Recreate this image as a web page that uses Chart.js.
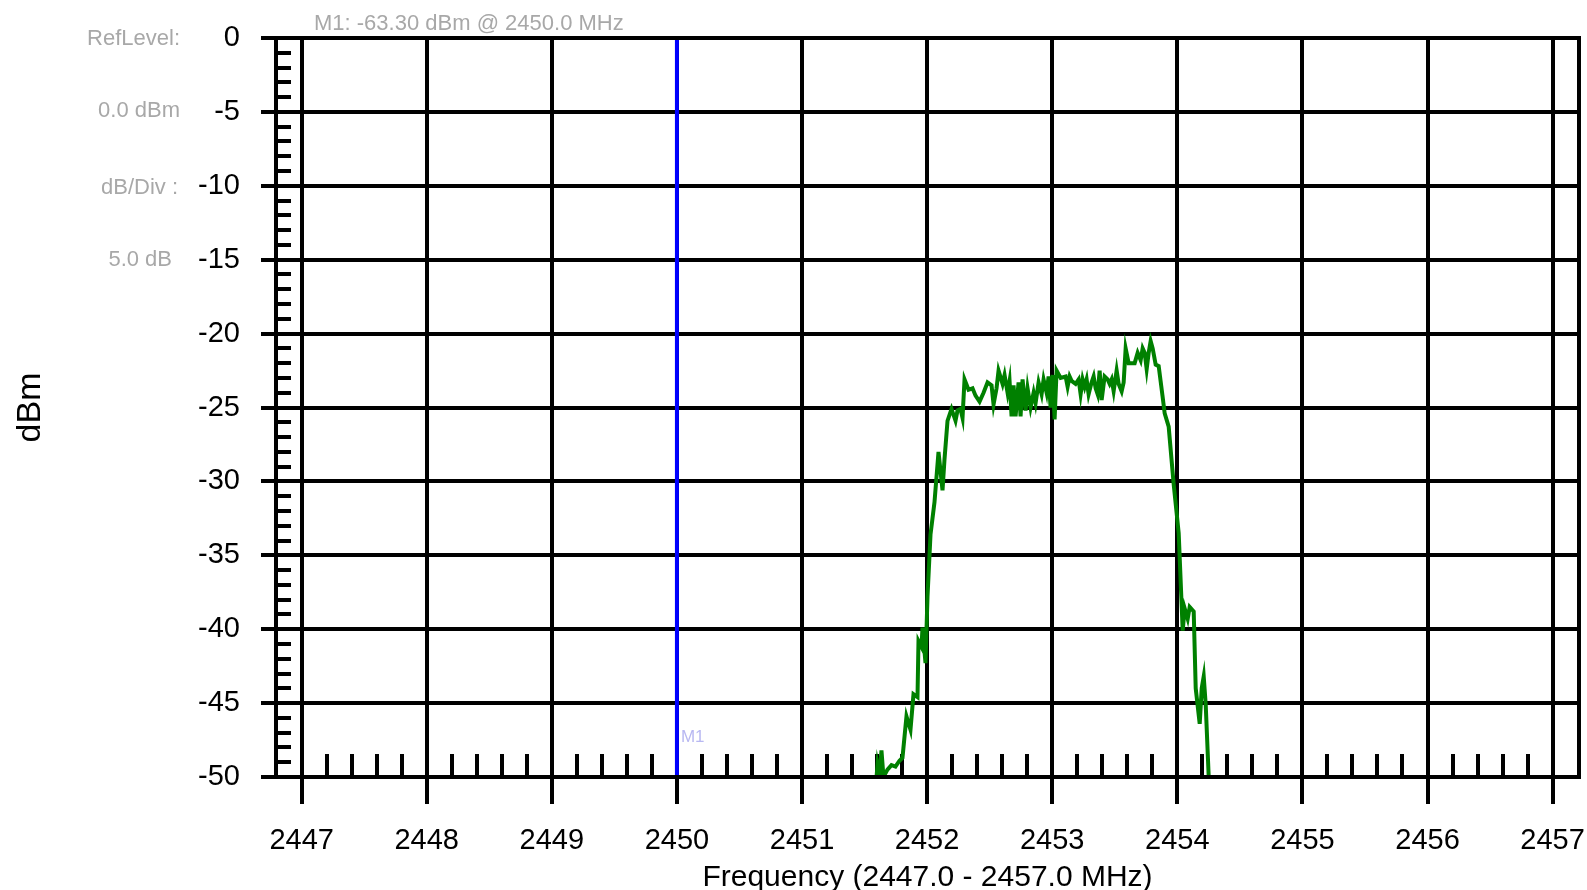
<!DOCTYPE html>
<html>
<head>
<meta charset="utf-8">
<title>Spectrum trace</title>
<script src="https://cdn.jsdelivr.net/npm/chart.js@4.4.1/dist/chart.umd.min.js"></script>
<style>
    html, body { margin: 0; padding: 0; background: #fff; }
    #wrap { position: relative; width: 1587px; height: 890px; overflow: hidden; }
    #chart { position: absolute; left: 0; top: 0; }
    .note {
        position: absolute;
        font-family: "Liberation Sans", Arial, sans-serif;
        font-size: 22px;
        line-height: 1;
        color: #a8a8a8;
        white-space: nowrap;
    }
</style>
</head>
<body>
<div id="wrap">
    <canvas id="chart" width="1587" height="890"></canvas>
    <div class="note" style="left:314px; top:12px;">M1: -63.30 dBm @ 2450.0 MHz</div>
    <div class="note" style="right:1407px; top:27px;">RefLevel:</div>
    <div class="note" style="right:1407px; top:99px;">0.0 dBm</div>
    <div class="note" style="right:1409px; top:176px;">dB/Div :</div>
    <div class="note" style="right:1415px; top:248px;">5.0 dB</div>
</div>

<script>
// Trace (MHz / dBm), only the part above the -50 dBm floor
const freqMHz = [
    2451.587, 2451.603, 2451.619, 2451.635, 2451.651, 2451.683, 2451.715, 2451.747, 2451.779, 2451.803,
    2451.835, 2451.867, 2451.891, 2451.923, 2451.931, 2451.955, 2451.963, 2451.987, 2452.003, 2452.027,
    2452.059, 2452.091, 2452.123, 2452.139, 2452.163, 2452.195, 2452.227, 2452.243, 2452.267, 2452.283,
    2452.299, 2452.331, 2452.363, 2452.387, 2452.419, 2452.451, 2452.483, 2452.515, 2452.531, 2452.555,
    2452.571, 2452.603, 2452.619, 2452.643, 2452.659, 2452.675, 2452.691, 2452.707, 2452.731, 2452.747,
    2452.763, 2452.787, 2452.803, 2452.827, 2452.851, 2452.867, 2452.891, 2452.915, 2452.931, 2452.955,
    2452.971, 2452.987, 2453.003, 2453.019, 2453.035, 2453.067, 2453.107, 2453.123, 2453.139, 2453.155,
    2453.187, 2453.211, 2453.227, 2453.243, 2453.259, 2453.275, 2453.291, 2453.315, 2453.331, 2453.347,
    2453.363, 2453.379, 2453.395, 2453.419, 2453.443, 2453.459, 2453.475, 2453.491, 2453.515, 2453.531,
    2453.555, 2453.571, 2453.587, 2453.611, 2453.659, 2453.683, 2453.707, 2453.723, 2453.739, 2453.755,
    2453.771, 2453.787, 2453.803, 2453.827, 2453.851, 2453.883, 2453.899, 2453.931, 2453.971, 2454.011,
    2454.043, 2454.059, 2454.083, 2454.099, 2454.131, 2454.147, 2454.179, 2454.195, 2454.211, 2454.227,
    2454.251, 2454.267
];
const levelDbm = [
    -51, -49.2, -50, -48.2, -50, -49.5, -49.2, -49.3, -48.9, -48.7,
    -45.9, -46.8, -44.4, -44.6, -40.8, -41.2, -39.9, -42.3, -37.8, -33.6,
    -31.4, -28.0, -30.6, -28.5, -25.9, -25.1, -25.9, -25.2, -25.1, -25.7,
    -23.1, -23.8, -23.7, -24.2, -24.6, -24.0, -23.3, -23.5, -24.8, -23.7,
    -22.5, -23.4, -22.8, -24.0, -23.2, -25.6, -23.5, -25.6, -23.3, -25.6,
    -23.1, -25.2, -23.7, -25.0, -24.0, -24.7, -23.3, -24.1, -23.1, -24.0,
    -22.9, -25.0, -22.8, -25.8, -22.5, -23.0, -22.9, -23.6, -22.9, -23.2,
    -23.4, -23.1, -24.1, -23.1, -23.6, -23.1, -24.1, -23.3, -22.9, -23.7,
    -24.1, -22.5, -24.5, -22.9, -23.1, -23.4, -23.1, -23.9, -22.5, -23.4,
    -23.9, -23.3, -21.0, -22.0, -22.0, -21.3, -21.8, -21.0, -21.3, -22.4,
    -21.3, -20.5, -21.0, -22.1, -22.2, -24.3, -25.4, -26.3, -30.2, -33.5,
    -40.1, -38.6, -39.3, -38.5, -38.8, -44.0, -46.4, -44.0, -43.2, -45.1,
    -50.0, -53
];

// Marker M1, a vertical line across the full screen
const markerFreq = [2450, 2450];
const markerLevel = [0, -50];
const markerLabel = 'M1';

const xTicks = [2447, 2448, 2449, 2450, 2451, 2452, 2453, 2454, 2455, 2456, 2457];
const yTicks = [0, -5, -10, -15, -20, -25, -30, -35, -40, -45, -50];
const xMinorPerMajor = 5;
const yMinorPerMajor = 5;

const FONT = '"Liberation Sans", Arial, sans-serif';

// small ticks inside the plot: every 0.2 MHz along the bottom, every 1 dB on the left
const minorTicks = {
    id: 'minorTicks',
    beforeDatasetsDraw(chart) {
        const { ctx, chartArea, scales } = chart;
        ctx.save();
        ctx.strokeStyle = '#000';
        ctx.lineWidth = 4;
        ctx.beginPath();
        for (let i = 0; i < xTicks.length - 1; i++) {
            const step = (xTicks[i + 1] - xTicks[i]) / xMinorPerMajor;
            for (let k = 1; k < xMinorPerMajor; k++) {
                const px = Math.round(scales.x.getPixelForValue(xTicks[i] + k * step));
                ctx.moveTo(px, chartArea.bottom);
                ctx.lineTo(px, chartArea.bottom - 23);
            }
        }
        for (let i = 0; i < yTicks.length - 1; i++) {
            const step = (yTicks[i + 1] - yTicks[i]) / yMinorPerMajor;
            for (let k = 1; k < yMinorPerMajor; k++) {
                const py = Math.round(scales.y.getPixelForValue(yTicks[i] + k * step));
                ctx.moveTo(chartArea.left, py);
                ctx.lineTo(chartArea.left + 15, py);
            }
        }
        ctx.stroke();
        ctx.restore();
    },
    afterDatasetsDraw(chart) {
        const { ctx, chartArea, scales } = chart;
        ctx.save();
        // marker label
        ctx.fillStyle = '#b8b8f2';
        ctx.font = '17px ' + FONT;
        ctx.textBaseline = 'middle';
        ctx.fillText(markerLabel, scales.x.getPixelForValue(markerFreq[0]) + 4, scales.y.getPixelForValue(-47.3));
        // frame round the plot
        ctx.strokeStyle = '#000';
        ctx.lineWidth = 4;
        ctx.strokeRect(chartArea.left, chartArea.top, chartArea.right - chartArea.left, chartArea.bottom - chartArea.top);
        ctx.restore();
    }
};

const ctx = document.getElementById('chart').getContext('2d');
new Chart(ctx, {
    type: 'line',
    data: {
        datasets: [
            {
                label: 'M1',
                data: markerFreq.map((f, i) => ({ x: f, y: markerLevel[i] })),
                borderColor: '#0000ff',
                borderWidth: 4,
                pointRadius: 0,
                order: 2
            },
            {
                label: 'Trace',
                data: freqMHz.map((f, i) => ({ x: f, y: levelDbm[i] })),
                borderColor: '#008000',
                borderWidth: 4,
                pointRadius: 0,
                tension: 0,
                clip: 0,
                order: 1
            }
        ]
    },
    options: {
        responsive: false,
        animation: false,
        devicePixelRatio: 1,
        layout: { padding: { top: 38, right: 8, left: 0, bottom: 0 } },
        plugins: {
            legend: { display: false },
            tooltip: { enabled: false }
        },
        scales: {
            x: {
                type: 'linear',
                min: 2446.795,
                max: 2457.211,
                afterBuildTicks: scale => { scale.ticks = xTicks.map(v => ({ value: v })); },
                afterFit: scale => { scale.height = 113; scale.paddingLeft = 0; scale.paddingRight = 0; },
                ticks: {
                    autoSkip: false,
                    maxRotation: 0,
                    padding: 20,
                    color: '#000',
                    font: { family: FONT, size: 29 },
                    callback: value => String(value)
                },
                grid: { color: '#000', lineWidth: 4, tickLength: 27, tickWidth: 4, tickColor: '#000' },
                border: { display: true, color: '#000', width: 4 },
                title: {
                    display: true,
                    text: 'Frequency (2447.0 - 2457.0 MHz)',
                    color: '#000',
                    font: { family: FONT, size: 30, lineHeight: 1 },
                    padding: { top: 0, bottom: -3 }
                }
            },
            y: {
                type: 'linear',
                min: -50,
                max: 0,
                afterBuildTicks: scale => { scale.ticks = yTicks.map(v => ({ value: v })); },
                afterFit: scale => { scale.width = 276; scale.paddingTop = 0; scale.paddingBottom = 0; },
                ticks: {
                    padding: 21,
                    color: '#000',
                    font: { family: FONT, size: 29 },
                    callback: value => String(value)
                },
                grid: { color: '#000', lineWidth: 4, tickLength: 15, tickWidth: 4, tickColor: '#000' },
                border: { display: true, color: '#000', width: 4 },
                title: {
                    display: true,
                    text: 'dBm',
                    color: '#000',
                    font: { family: FONT, size: 34, lineHeight: 1 },
                    padding: { top: 14, bottom: 0 }
                }
            }
        }
    },
    plugins: [minorTicks]
});
</script>
</body>
</html>
